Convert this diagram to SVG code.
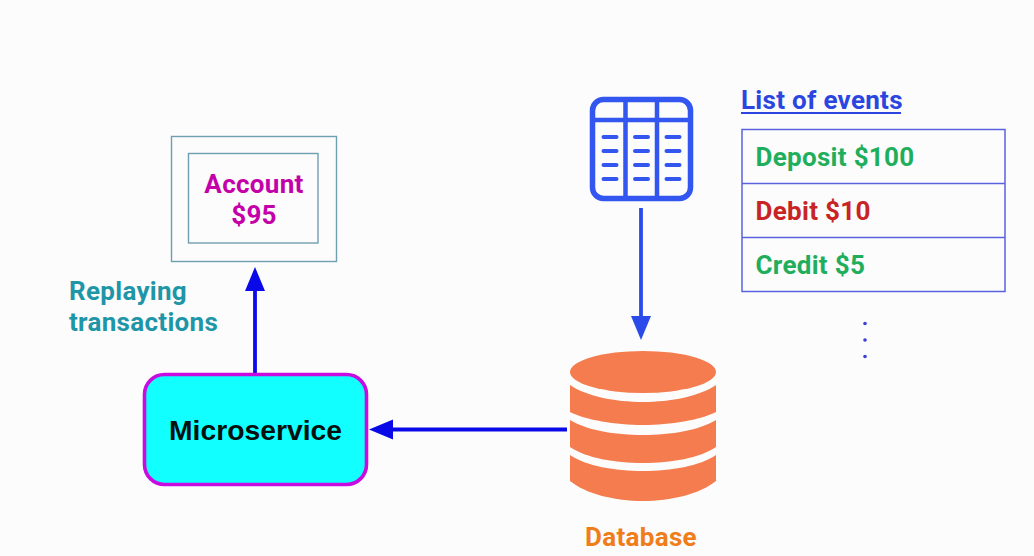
<svg xmlns="http://www.w3.org/2000/svg" width="1034" height="556" viewBox="0 0 1034 556">
<style>
text{font-family:Roboto,"Liberation Sans",sans-serif;font-weight:700;font-size:26px;letter-spacing:.3px}
.box{fill:none;stroke:#6f9fb0;stroke-width:1.4}
.list{fill:none;stroke:#5a62e0;stroke-width:1.5}
.ico{fill:none;stroke:#3355f0;stroke-width:5.5}
.dash{stroke:#3355f0;stroke-width:4;stroke-linecap:round}
.conn{fill:none;stroke:#0a0ae8;stroke-width:3.8}
.db{fill:#f47c4e}
.g{fill:#1fae5c}
.m{fill:#c400a8}
.t{fill:#1f95a8}
</style>
<defs>
<marker id="arrow" markerUnits="userSpaceOnUse" markerWidth="26" markerHeight="22" refX="14" refY="10" orient="auto"><path d="M0 0L24 10L0 20Z" fill="#0a0ae8"/></marker>
<marker id="arrow2" markerUnits="userSpaceOnUse" markerWidth="26" markerHeight="22" refX="14" refY="10" orient="auto"><path d="M0 0L24 10L0 20Z" fill="#2a4bea"/></marker>
</defs>
<rect width="1034" height="556" fill="#fbfcfb"/>
<g id="connectors">
<path class="conn" style="stroke:#2a4bea" d="M641 208V330" marker-end="url(#arrow2)"/>
<path class="conn" d="M255 373V277" marker-end="url(#arrow)"/>
<path class="conn" d="M567 429.500H379" marker-end="url(#arrow)"/>
</g>
<g id="account">
<rect class="box" x="171.500" y="136.500" width="165" height="125"/>
<rect class="box" x="188.500" y="153.500" width="129.500" height="89.500"/>
<text x="254" y="193" text-anchor="middle" class="m">Account</text>
<text x="254" y="224" text-anchor="middle" class="m">$95</text>
</g>
<g id="replaying-label">
<text x="69" y="300" class="t">Replaying</text>
<text x="69" y="331" class="t">transactions</text>
</g>
<g id="microservice">
<rect x="144.500" y="374.500" width="222" height="110" rx="20" fill="#11ffff" stroke="#c80ce0" stroke-width="3.6"/>
<text x="255.500" y="440" text-anchor="middle" style="font-family:'Liberation Sans',Arial,sans-serif;font-size:28.300px;letter-spacing:0" fill="#06100f">Microservice</text>
</g>
<g id="table-icon">
<rect class="ico" x="592.500" y="99.500" width="98" height="99" rx="11"/>
<path class="ico" style="stroke-width:4.500" d="M592.500 120H690.500M625.500 99.500V198.500M657 99.500V198.500"/>
<path class="dash" d="M603.500 137H616.500M603.500 151H616.500M603.500 165H616.500M603.500 179H616.500M635 137H648M635 151H648M635 165H648M635 179H648M666.500 137H679.500M666.500 151H679.500M666.500 165H679.500M666.500 179H679.500"/>
</g>
<g id="event-list">
<text x="741" y="109" fill="#2a45e0">List of events</text>
<path d="M741 113H901" stroke="#2a45e0" stroke-width="2"/>
<rect class="list" x="742" y="129.500" width="263" height="162"/>
<path class="list" d="M742 183.500H1005M742 237.500H1005"/>
<text x="755.500" y="166" class="g">Deposit $100</text>
<text x="755.500" y="220" fill="#c82426">Debit $10</text>
<text x="755.500" y="274" class="g">Credit $5</text>
<circle cx="865" cy="323.500" r="1.800" fill="#3a3fd8"/>
<circle cx="865" cy="340" r="1.800" fill="#3a3fd8"/>
<circle cx="865" cy="356.500" r="1.800" fill="#3a3fd8"/>
</g>
<g id="database">
<ellipse class="db" cx="643" cy="372" rx="73" ry="21"/>
<path class="db" d="M570 385C586 396 615 402 643 402C671 402 700 396 716 385V412C700 420 671 425 643 425C615 425 586 420 570 412Z"/>
<path class="db" d="M570 420C586 430 615 435 643 435C671 435 700 430 716 420V447C700 458 671 463 643 463C615 463 586 458 570 447Z"/>
<path class="db" d="M570 455C586 466 615 471 643 471C671 471 700 466 716 455V481C700 494 671 501 643 501C615 501 586 494 570 481Z"/>
<text x="641" y="546" text-anchor="middle" fill="#f07d1a">Database</text>
</g>
</svg>
